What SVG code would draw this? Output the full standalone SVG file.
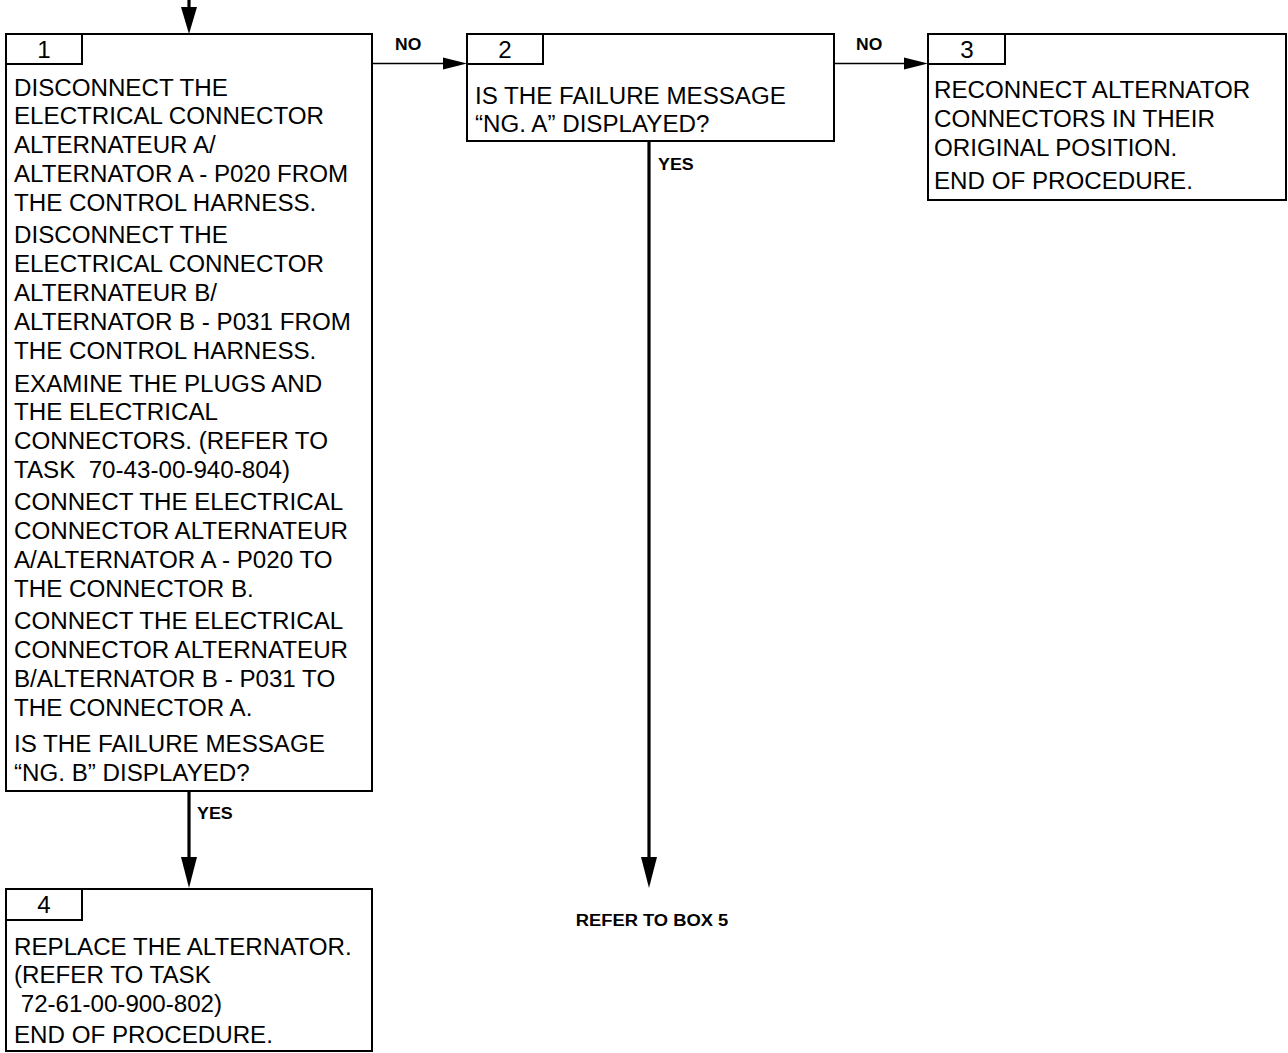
<svg xmlns="http://www.w3.org/2000/svg" width="1288" height="1053" viewBox="0 0 1288 1053">
<style>
.box{fill:#fff;stroke:#000;stroke-width:2}
.t{font-family:"Liberation Sans",Arial,sans-serif;font-size:23px;fill:#000}
.lbl{font-family:"Liberation Sans",Arial,sans-serif;font-size:17px;font-weight:bold;fill:#000}
.thin{stroke:#000;stroke-width:1.6;fill:none}
.thick{stroke:#000;stroke-width:3.2;fill:none}
.head{fill:#000;stroke:none}
</style>
<rect width="1288" height="1053" fill="#fff"/>
<g id="connectors">
  <line class="thick" x1="189" y1="0" x2="189" y2="12"/>
  <polygon class="head" points="181,7 197,7 189,34"/>
  <line class="thin" x1="372" y1="63.5" x2="450" y2="63.5"/>
  <polygon class="head" points="443,57.5 467,63.5 443,69.5"/>
  <g transform="translate(395,0) scale(1.03,1)"><text class="lbl" x="0" y="50">NO</text></g>
  <line class="thin" x1="834" y1="63.5" x2="910" y2="63.5"/>
  <polygon class="head" points="904,57.5 928,63.5 904,69.5"/>
  <g transform="translate(856,0) scale(1.03,1)"><text class="lbl" x="0" y="50">NO</text></g>
  <line class="thick" x1="189" y1="791" x2="189" y2="862"/>
  <polygon class="head" points="181,857 197,857 189,888"/>
  <g transform="translate(197,0) scale(1.05,1)"><text class="lbl" x="0" y="819">YES</text></g>
  <line class="thick" x1="649" y1="141" x2="649" y2="862"/>
  <polygon class="head" points="641,857 657,857 649,888"/>
  <g transform="translate(658,0) scale(1.05,1)"><text class="lbl" x="0" y="170">YES</text></g>
  <g transform="translate(652,0) scale(1.08,1)"><text class="lbl" x="0" y="926" text-anchor="middle">REFER TO BOX 5</text></g>
</g>
<g id="node1">
  <rect class="box" x="6" y="34" width="366" height="757"/>
  <rect class="box" x="6" y="34" width="76" height="30"/>
  <g transform="translate(44,0) scale(1.05,1)"><text class="t" x="0" y="58" text-anchor="middle">1</text></g>
  <g transform="translate(14,0) scale(1.05,1)">
    <text class="t" x="0" y="96">DISCONNECT THE</text>
    <text class="t" x="0" y="124">ELECTRICAL CONNECTOR</text>
    <text class="t" x="0" y="153">ALTERNATEUR A/</text>
    <text class="t" x="0" y="182">ALTERNATOR A - P020 FROM</text>
    <text class="t" x="0" y="211">THE CONTROL HARNESS.</text>
    <text class="t" x="0" y="243">DISCONNECT THE</text>
    <text class="t" x="0" y="272">ELECTRICAL CONNECTOR</text>
    <text class="t" x="0" y="301">ALTERNATEUR B/</text>
    <text class="t" x="0" y="330">ALTERNATOR B - P031 FROM</text>
    <text class="t" x="0" y="359">THE CONTROL HARNESS.</text>
    <text class="t" x="0" y="392">EXAMINE THE PLUGS AND</text>
    <text class="t" x="0" y="420">THE ELECTRICAL</text>
    <text class="t" x="0" y="449">CONNECTORS. (REFER TO</text>
    <text class="t" x="0" y="478" xml:space="preserve">TASK  70-43-00-940-804)</text>
    <text class="t" x="0" y="510">CONNECT THE ELECTRICAL</text>
    <text class="t" x="0" y="539">CONNECTOR ALTERNATEUR</text>
    <text class="t" x="0" y="568">A/ALTERNATOR A - P020 TO</text>
    <text class="t" x="0" y="597">THE CONNECTOR B.</text>
    <text class="t" x="0" y="629">CONNECT THE ELECTRICAL</text>
    <text class="t" x="0" y="658">CONNECTOR ALTERNATEUR</text>
    <text class="t" x="0" y="687">B/ALTERNATOR B - P031 TO</text>
    <text class="t" x="0" y="716">THE CONNECTOR A.</text>
    <text class="t" x="0" y="752">IS THE FAILURE MESSAGE</text>
    <text class="t" x="0" y="781">“NG. B” DISPLAYED?</text>
  </g>
</g>
<g id="node2">
  <rect class="box" x="467" y="34" width="367" height="107"/>
  <rect class="box" x="467" y="34" width="76" height="30"/>
  <g transform="translate(505,0) scale(1.05,1)"><text class="t" x="0" y="58" text-anchor="middle">2</text></g>
  <g transform="translate(475,0) scale(1.05,1)">
    <text class="t" x="0" y="104">IS THE FAILURE MESSAGE</text>
    <text class="t" x="0" y="132">“NG. A” DISPLAYED?</text>
  </g>
</g>
<g id="node3">
  <rect class="box" x="928" y="34" width="358" height="166"/>
  <rect class="box" x="928" y="34" width="77" height="30"/>
  <g transform="translate(967,0) scale(1.05,1)"><text class="t" x="0" y="58" text-anchor="middle">3</text></g>
  <g transform="translate(934,0) scale(1.05,1)">
    <text class="t" x="0" y="98">RECONNECT ALTERNATOR</text>
    <text class="t" x="0" y="127">CONNECTORS IN THEIR</text>
    <text class="t" x="0" y="156">ORIGINAL POSITION.</text>
    <text class="t" x="0" y="189">END OF PROCEDURE.</text>
  </g>
</g>
<g id="node4">
  <rect class="box" x="6" y="889" width="366" height="162"/>
  <rect class="box" x="6" y="889" width="76" height="31"/>
  <g transform="translate(44,0) scale(1.05,1)"><text class="t" x="0" y="913" text-anchor="middle">4</text></g>
  <g transform="translate(14,0) scale(1.05,1)">
    <text class="t" x="0" y="955">REPLACE THE ALTERNATOR.</text>
    <text class="t" x="0" y="983">(REFER TO TASK</text>
    <text class="t" x="0" y="1012" xml:space="preserve"> 72-61-00-900-802)</text>
    <text class="t" x="0" y="1043">END OF PROCEDURE.</text>
  </g>
</g>
</svg>
